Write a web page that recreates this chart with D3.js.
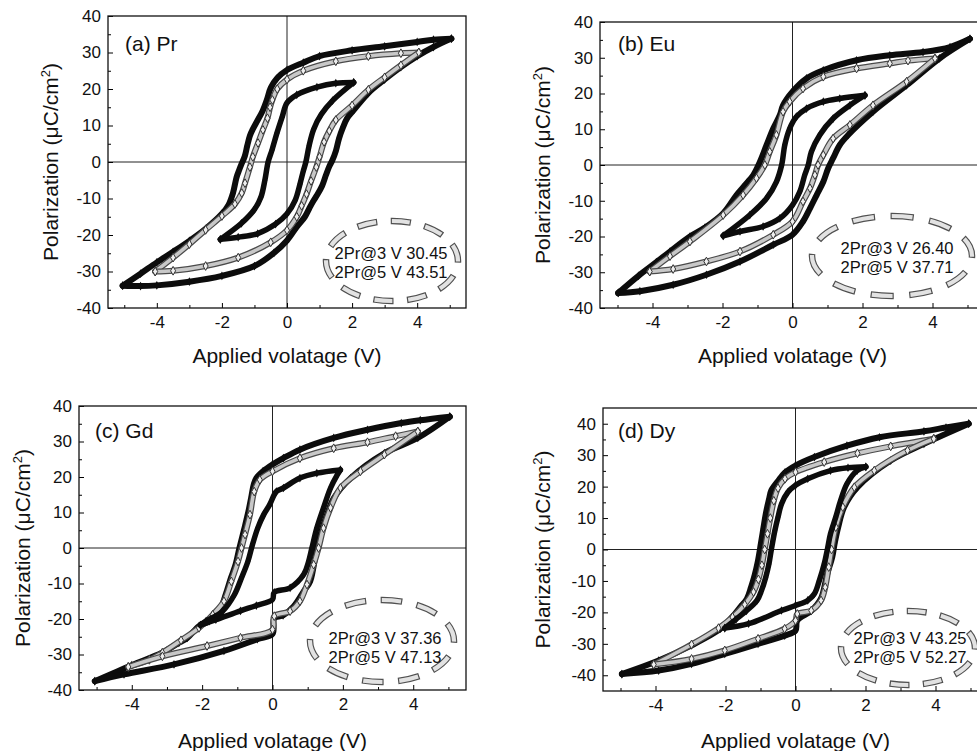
<!DOCTYPE html>
<html>
<head>
<meta charset="utf-8">
<script src="https://cdnjs.cloudflare.com/ajax/libs/d3/7.8.5/d3.min.js"></script>
<style>
body { margin: 0; background: #fff; }
svg { display: block; }
text { font-family: "Liberation Sans", Arial, sans-serif; fill: #111; }
</style>
</head>
<body>
<svg id="chart" width="977" height="751"></svg>
<script>
// panel titles and annotations
const panelNames = ['(a) Pr', '(b) Eu', '(c) Gd', '(d) Dy'];
const pr3V = ['30.45', '26.40', '37.36', '43.25'];
const pr5V = ['43.51', '37.71', '47.13', '52.27'];

// tick values
const xTicks = [-4, -2, 0, 2, 4];
const xMinor = [-5, -3, -1, 1, 3, 5];
const yTicks = [-40, -30, -20, -10, 0, 10, 20, 30, 40];
const yMinor = [-35, -25, -15, -5, 5, 15, 25, 35];

const prOuterUp = [[5.05,33.8],[4.5,33.5],[4,32.9],[3,31.7],[2,30.6],[1,29],[0.5,27.2],[0,25.2],[-0.3,23],[-0.5,20.3],[-0.62,17],[-0.75,14],[-0.93,11],[-1.05,9],[-1.14,7.2],[-1.22,4.5],[-1.3,1.5],[-1.39,-0.4],[-1.47,-2.2],[-1.55,-4.2],[-1.66,-8.5],[-1.8,-11.8],[-2,-14.2],[-2.5,-18.3],[-3,-21.6],[-3.5,-24.6],[-4,-27.5],[-4.5,-30.6],[-5.05,-33.9]];
const prOuterDown = [[-5.05,-33.9],[-4.5,-34],[-4,-33.8],[-3,-32.8],[-2,-31.2],[-1,-28.5],[-0.4,-24.9],[0,-21.5],[0.3,-17.8],[0.55,-15],[0.68,-12.8],[0.8,-10.8],[0.93,-9],[1.08,-6.5],[1.2,-3.5],[1.3,-1.2],[1.39,0.4],[1.5,3],[1.6,6.5],[1.72,9.5],[1.85,12],[2.05,14.2],[2.5,18.9],[3,22.6],[3.5,26],[4,29],[4.5,31.5],[5.05,33.8]];
const prMidUp = [[4.05,30],[3.5,29.8],[2.5,29],[1.5,27.6],[0.5,25],[0,22.6],[-0.3,20],[-0.45,17],[-0.52,15],[-0.6,12],[-0.74,8.8],[-0.89,5.2],[-1.05,1.4],[-1.14,-1.4],[-1.29,-5.8],[-1.39,-8.5],[-1.6,-11.5],[-2,-14.8],[-2.5,-18.6],[-3,-22.5],[-3.5,-26.2],[-4.05,-30]];
const prMidDown = [[-4.05,-30],[-3.5,-29.8],[-2.5,-28.5],[-1.5,-26.2],[-0.5,-22],[0,-18.7],[0.3,-15],[0.45,-12],[0.6,-8.8],[0.74,-5.2],[0.9,-1.4],[1,1.4],[1.14,5.5],[1.3,8.5],[1.5,11.5],[2,15.5],[2.5,19.8],[3,23.2],[3.5,26.5],[4.05,30]];
const prInnerUp = [[2.05,21.8],[1.5,21.6],[0.92,20.5],[0.3,18.4],[0,16.2],[-0.15,12.3],[-0.31,7.9],[-0.46,3.3],[-0.58,0],[-0.68,-5],[-0.8,-9.6],[-1,-13],[-1.4,-16.8],[-2.05,-21.2]];
const prInnerDown = [[-2.05,-21.2],[-1.5,-20.6],[-0.9,-19.6],[-0.35,-17],[0,-14.2],[0.25,-10.5],[0.4,-6],[0.5,-2.5],[0.58,0],[0.68,4.5],[0.82,9],[1.05,13],[1.4,16.8],[2.05,21.8]];

// (b) Eu
const euOuterUp = [[5.07,35.3],[4.5,33],[3.73,31.6],[2.78,30.7],[1.83,29.3],[0.88,26.5],[0.4,24.2],[0,20.5],[-0.27,16.7],[-0.36,14],[-0.55,10.2],[-0.74,5.6],[-0.93,0.9],[-1.12,-2.8],[-1.31,-5.1],[-1.6,-8.4],[-1.98,-13.5],[-2.5,-17.5],[-2.93,-20],[-3.5,-24.2],[-3.89,-27.2],[-4.4,-31],[-4.98,-35.8]];
const euOuterDown = [[-4.98,-35.8],[-4.36,-35.3],[-3.41,-33.5],[-2.46,-30.7],[-1.5,-27],[-0.55,-22.3],[0,-19.5],[0.3,-15.8],[0.5,-12.1],[0.69,-8.4],[0.88,-4.7],[1.02,-0.9],[1.16,1.9],[1.35,5.6],[1.59,8.4],[2.3,14.9],[3.26,22.3],[4.2,29.8],[5.07,35.3]];
const euMidUp = [[4.07,29.8],[3.3,29.2],[2.78,28.4],[1.83,27],[0.88,24.7],[0.3,21.4],[-0.08,17.7],[-0.27,14.9],[-0.46,8.4],[-0.65,3.7],[-0.79,0],[-1.03,-3.7],[-1.41,-8.4],[-1.98,-14],[-2.93,-21.4],[-3.5,-25.5],[-4.08,-29.8]];
const euMidDown = [[-4.08,-29.8],[-3.41,-29.1],[-2.46,-27],[-1.5,-24.2],[-0.55,-19.5],[0,-15.8],[0.3,-10.2],[0.5,-6.5],[0.64,-2.8],[0.73,0],[0.88,2.8],[1.16,7.4],[1.64,11.2],[2.3,16.7],[3.26,23.3],[4.07,29.8]];
const euInnerUp = [[2.07,19.5],[1.35,18.6],[0.88,17.7],[0.4,15.8],[0.11,13.5],[-0.08,10.2],[-0.22,5.6],[-0.31,0],[-0.46,-4.7],[-0.74,-9.3],[-1.22,-14],[-1.98,-19.8]];
const euInnerDown = [[-1.98,-19.8],[-1.5,-18.6],[-0.84,-17.2],[-0.36,-14.9],[0,-11.2],[0.21,-7.4],[0.35,-2.8],[0.45,0],[0.54,3.7],[0.78,8.4],[1.16,13],[1.64,16.7],[2.07,19.5]];

// (c) Gd
const gdOuterUp = [[5.04,37],[4.2,36],[3.66,35.2],[2.7,33.3],[1.74,31],[0.78,27.7],[0.31,25.3],[0,23.5],[-0.27,21.6],[-0.46,19.7],[-0.53,18],[-0.6,14.5],[-0.68,10.5],[-0.8,5.5],[-0.94,0],[-1.05,-4.7],[-1.18,-8.4],[-1.33,-13.1],[-1.5,-17.5],[-1.8,-20.6],[-2.09,-22],[-2.42,-25.3],[-2.66,-26.7],[-3.14,-29.5],[-4,-33],[-5.05,-37.5]];
const gdOuterDown = [[-5.05,-37.5],[-4.22,-35.6],[-2.8,-32.8],[-1.38,-29],[-0.43,-25.7],[0,-24.2],[0.05,-19.8],[0.3,-19],[0.6,-16.5],[0.9,-12],[1.07,-9.4],[1.26,0],[1.4,5],[1.55,9.4],[1.74,14],[2.22,19.7],[3.18,26.7],[4.13,31],[5.04,37]];
const gdMidUp = [[4.13,32.8],[3.5,31.5],[2.7,29.8],[1.74,28.1],[0.78,25.3],[0,21.6],[-0.36,19.2],[-0.52,15.9],[-0.64,9.4],[-0.78,3.8],[-0.88,0],[-0.98,-3.8],[-1.17,-9.4],[-1.38,-15],[-1.7,-18.8],[-2.09,-22.5],[-2.6,-26],[-3.13,-29.5],[-3.5,-31.5],[-4.1,-33.5]];
const gdMidDown = [[-4.1,-33.5],[-3.13,-30.5],[-1.86,-27.6],[-0.91,-25.3],[0,-23],[0.05,-19.2],[0.5,-17.8],[0.78,-15],[0.98,-10.3],[1.17,-4.7],[1.31,0],[1.45,5.6],[1.65,11.3],[1.93,16.9],[2.5,21.6],[3.18,26.3],[4.13,32.8]];
const gdInnerUp = [[1.93,22],[1.26,21.1],[0.78,19.7],[0.31,16.9],[0.11,15.9],[-0.08,12.2],[-0.25,9.4],[-0.42,5.6],[-0.57,0.9],[-0.7,-3.8],[-0.88,-8.4],[-1.08,-13.1],[-1.42,-17.8],[-1.89,-20.6],[-2.05,-21.7]];
const gdInnerDown = [[-2.05,-21.7],[-1.61,-20.2],[-0.91,-17.7],[-0.46,-16.2],[0,-14.5],[0.05,-12.5],[0.5,-11.2],[0.89,-7.4],[1.02,-4],[1.12,0],[1.26,5.6],[1.45,11.3],[1.65,16.9],[1.84,20.6],[1.93,22]];

// (d) Dy
const dyOuterUp = [[4.95,40],[4.3,38.8],[3.67,37.6],[2.4,35.7],[1.47,33],[0.54,29.4],[0,26.7],[-0.3,24.5],[-0.5,21.8],[-0.69,18.8],[-0.76,15.8],[-0.85,11.3],[-0.92,6.6],[-0.99,1.8],[-1.08,-4],[-1.17,-8.3],[-1.27,-12],[-1.39,-15.7],[-1.58,-18.3],[-1.81,-21.5],[-2.14,-25.2],[-2.97,-30.5],[-3.91,-35.3],[-4.96,-39.6]];
const dyOuterDown = [[-4.96,-39.6],[-3.91,-38.5],[-2.97,-36.4],[-2.02,-33.2],[-1.07,-30],[-0.31,-27.4],[0,-25.8],[0.05,-22.6],[0.45,-19.5],[0.73,-15.5],[0.9,-8],[1.05,-2.4],[1.12,2],[1.22,7.1],[1.39,13.5],[1.77,19.8],[2.72,28.3],[3.67,33.6],[4.95,40]];
const dyMidUp = [[3.95,35.2],[2.72,32.8],[1.77,30.6],[0.82,27.8],[0,24.6],[-0.3,22.5],[-0.5,19.5],[-0.62,15.5],[-0.72,10],[-0.8,5],[-0.88,0],[-0.96,-5],[-1.06,-9.5],[-1.2,-13.5],[-1.45,-17.5],[-1.8,-21.5],[-2.2,-25],[-2.97,-30.2],[-4.05,-36.6]];
const dyMidDown = [[-4.05,-36.6],[-2.97,-34.8],[-2.02,-32.1],[-1.07,-28.4],[-0.31,-25.2],[0,-22.6],[0.05,-20.5],[0.45,-19.4],[0.73,-16.2],[0.85,-12],[0.95,-5.6],[1.03,0],[1.15,7.1],[1.35,13.5],[1.68,19.8],[2.25,25.1],[3.2,31.5],[3.95,35.2]];
const dyInnerUp = [[2.01,26.3],[1.5,26],[1,25.1],[0.35,22.5],[0,20.4],[-0.22,18.2],[-0.4,14.5],[-0.5,10.3],[-0.59,6],[-0.69,0],[-0.76,-4.6],[-0.85,-8.8],[-0.97,-13],[-1.1,-16.2],[-1.4,-19.5],[-1.7,-22.2],[-2.02,-25]];
const dyInnerDown = [[-2.02,-25],[-1.34,-23.6],[-0.4,-19.4],[0,-17.8],[0.35,-16.2],[0.54,-14.1],[0.68,-9.9],[0.82,-4.6],[0.91,0],[1,5],[1.15,10.3],[1.29,15.6],[1.47,20.9],[1.76,25.1],[2.01,26.3]];

const loops = [
    [prOuterUp, prOuterDown, prMidUp, prMidDown, prInnerUp, prInnerDown],
    [euOuterUp, euOuterDown, euMidUp, euMidDown, euInnerUp, euInnerDown],
    [gdOuterUp, gdOuterDown, gdMidUp, gdMidDown, gdInnerUp, gdInnerDown],
    [dyOuterUp, dyOuterDown, dyMidUp, dyMidDown, dyInnerUp, dyInnerDown],
];

// layout of the four panels
const layout = [
    {x0: 108, x1: 466, y0: 16, y1: 308, yMax: 40, ylabX: 50, xlabY: 355, tagX: 125, tagY: 43,
        ell: {cx: 392, cy: 261, rx: 66, ry: 40}, txtX: 391, txtY: 253},
    {x0: 600, x1: 985, y0: 22, y1: 308, yMax: 40, ylabX: 542, xlabY: 355, tagX: 618, tagY: 43,
        ell: {cx: 892, cy: 256, rx: 80, ry: 40}, txtX: 897, txtY: 248},
    {x0: 79, x1: 466, y0: 406, y1: 690, yMax: 40, ylabX: 22, xlabY: 740, tagX: 95, tagY: 430,
        ell: {cx: 382, cy: 641, rx: 72, ry: 41}, txtX: 385, txtY: 638},
    {x0: 603, x1: 988, y0: 408, y1: 691, yMax: 45, ylabX: 542, xlabY: 740, tagX: 618, tagY: 430,
        ell: {cx: 908, cy: 648, rx: 67, ry: 37}, txtX: 910, txtY: 638},
];

const svg = d3.select('#chart');
svg.append('rect').attr('width', 977).attr('height', 751).attr('fill', '#fff');

function drawBranch(g, pts, x, y, gray, width) {
    const line = d3.line()
        .x(d => x(d[0]))
        .y(d => y(d[1]))
        .curve(d3.curveCatmullRom.alpha(0.5));

    if (gray) {
        g.append('path').attr('d', line(pts))
            .attr('fill', 'none').attr('stroke', '#4a4a4a').attr('stroke-width', 6)
            .attr('stroke-linejoin', 'round').attr('stroke-linecap', 'round');
        g.append('path').attr('d', line(pts))
            .attr('fill', 'none').attr('stroke', '#c8c8c8').attr('stroke-width', 3.6)
            .attr('stroke-linejoin', 'round').attr('stroke-linecap', 'round');
    } else {
        g.append('path').attr('d', line(pts))
            .attr('fill', 'none').attr('stroke', '#0c0c0c').attr('stroke-width', width)
            .attr('stroke-linejoin', 'round').attr('stroke-linecap', 'round');
    }

    // diamond markers at every read point
    g.selectAll(null)
        .data(pts)
        .join('path')
        .attr('transform', d => `translate(${x(d[0])},${y(d[1])})`)
        .attr('d', d3.symbol(d3.symbolDiamond, 22))
        .attr('fill', gray ? '#eeeeee' : '#0c0c0c')
        .attr('stroke', gray ? '#333' : 'none')
        .attr('stroke-width', 1);
}

function drawPanel(i) {
    const p = layout[i];
    const g = svg.append('g');

    const x = d3.scaleLinear().domain([-5.5, 5.5]).range([p.x0, p.x1]);
    const y = d3.scaleLinear().domain([-p.yMax, p.yMax]).range([p.y1, p.y0]);

    const clipId = 'clip' + i;
    svg.append('clipPath').attr('id', clipId)
        .append('rect')
        .attr('x', p.x0).attr('y', p.y0)
        .attr('width', p.x1 - p.x0).attr('height', p.y1 - p.y0);

    // zero lines
    g.append('line')
        .attr('x1', p.x0).attr('x2', p.x1).attr('y1', y(0)).attr('y2', y(0))
        .attr('stroke', '#222').attr('stroke-width', 1);
    g.append('line')
        .attr('x1', x(0)).attr('x2', x(0)).attr('y1', p.y0).attr('y2', p.y1)
        .attr('stroke', '#222').attr('stroke-width', 1);

    // loops: 5 V outer, 4 V grey, 2 V inner
    const plot = g.append('g').attr('clip-path', `url(#${clipId})`);
    const L = loops[i];
    drawBranch(plot, L[0], x, y, false, 6);
    drawBranch(plot, L[1], x, y, false, 6);
    drawBranch(plot, L[2], x, y, true);
    drawBranch(plot, L[3], x, y, true);
    drawBranch(plot, L[4], x, y, false, 5.5);
    drawBranch(plot, L[5], x, y, false, 5.5);

    // axes
    const fmt = d => String(d);
    g.append('g')
        .attr('transform', `translate(0,${p.y1})`)
        .call(d3.axisBottom(x).tickValues(xTicks).tickSizeInner(-5).tickSizeOuter(0).tickPadding(8).tickFormat(fmt))
        .call(s => s.select('.domain').remove())
        .attr('font-size', 17).attr('font-family', '"Liberation Sans", Arial, sans-serif');
    g.append('g')
        .attr('transform', `translate(0,${p.y1})`)
        .call(d3.axisBottom(x).tickValues(xMinor).tickSizeInner(-3).tickSizeOuter(0).tickFormat(''))
        .call(s => s.select('.domain').remove());
    g.append('g')
        .attr('transform', `translate(${p.x0},0)`)
        .call(d3.axisLeft(y).tickValues(yTicks).tickSizeInner(-5).tickSizeOuter(0).tickPadding(7).tickFormat(fmt))
        .call(s => s.select('.domain').remove())
        .attr('font-size', 17).attr('font-family', '"Liberation Sans", Arial, sans-serif');
    g.append('g')
        .attr('transform', `translate(${p.x0},0)`)
        .call(d3.axisLeft(y).tickValues(yMinor).tickSizeInner(-3).tickSizeOuter(0).tickFormat(''))
        .call(s => s.select('.domain').remove());

    g.selectAll('.tick text').style('fill', '#111');

    // frame
    g.append('rect')
        .attr('x', p.x0).attr('y', p.y0)
        .attr('width', p.x1 - p.x0).attr('height', p.y1 - p.y0)
        .attr('fill', 'none').attr('stroke', '#111').attr('stroke-width', 1.3);

    // panel tag
    g.append('text')
        .attr('x', p.tagX).attr('y', p.tagY).attr('dy', '0.36em')
        .attr('font-size', 21)
        .text(panelNames[i]);

    // axis titles
    g.append('text')
        .attr('x', (p.x0 + p.x1) / 2).attr('y', p.xlabY).attr('dy', '0.36em')
        .attr('text-anchor', 'middle').attr('font-size', 21)
        .text('Applied volatage (V)');

    const yl = g.append('text')
        .attr('transform', `translate(${p.ylabX},${(p.y0 + p.y1) / 2}) rotate(-90)`)
        .attr('dy', '0.36em')
        .attr('text-anchor', 'middle').attr('font-size', 21);
    yl.append('tspan').text('Polarization (\u03bcC/cm');
    yl.append('tspan').attr('font-size', 13).attr('dy', -8).text('2');
    yl.append('tspan').attr('dy', 8).text(')');

    // dashed ellipse around the 2Pr values
    const e = p.ell;
    const h = Math.pow(e.rx - e.ry, 2) / Math.pow(e.rx + e.ry, 2);
    const perim = Math.PI * (e.rx + e.ry) * (1 + 3 * h / (10 + Math.sqrt(4 - 3 * h)));
    const period = perim / 10;
    const dash = period * 0.6;
    g.append('ellipse')
        .attr('cx', e.cx).attr('cy', e.cy).attr('rx', e.rx).attr('ry', e.ry)
        .attr('fill', 'none').attr('stroke', '#505050').attr('stroke-width', 6.5)
        .attr('stroke-dasharray', `${dash} ${period - dash}`)
        .attr('stroke-dashoffset', dash / 2 + period / 4);
    g.append('ellipse')
        .attr('cx', e.cx).attr('cy', e.cy).attr('rx', e.rx).attr('ry', e.ry)
        .attr('fill', 'none').attr('stroke', '#e2e2e2').attr('stroke-width', 4.2)
        .attr('stroke-dasharray', `${dash - 2.4} ${period - dash + 2.4}`)
        .attr('stroke-dashoffset', dash / 2 + period / 4 - 1.2);

    g.append('text')
        .attr('x', p.txtX).attr('y', p.txtY).attr('dy', '0.36em')
        .attr('text-anchor', 'middle').attr('font-size', 16.5)
        .text(`2Pr@3 V ${pr3V[i]}`);
    g.append('text')
        .attr('x', p.txtX).attr('y', p.txtY + 19).attr('dy', '0.36em')
        .attr('text-anchor', 'middle').attr('font-size', 16.5)
        .text(`2Pr@5 V ${pr5V[i]}`);
}

for (let i = 0; i < 4; i++) drawPanel(i);
</script>
</body>
</html>
